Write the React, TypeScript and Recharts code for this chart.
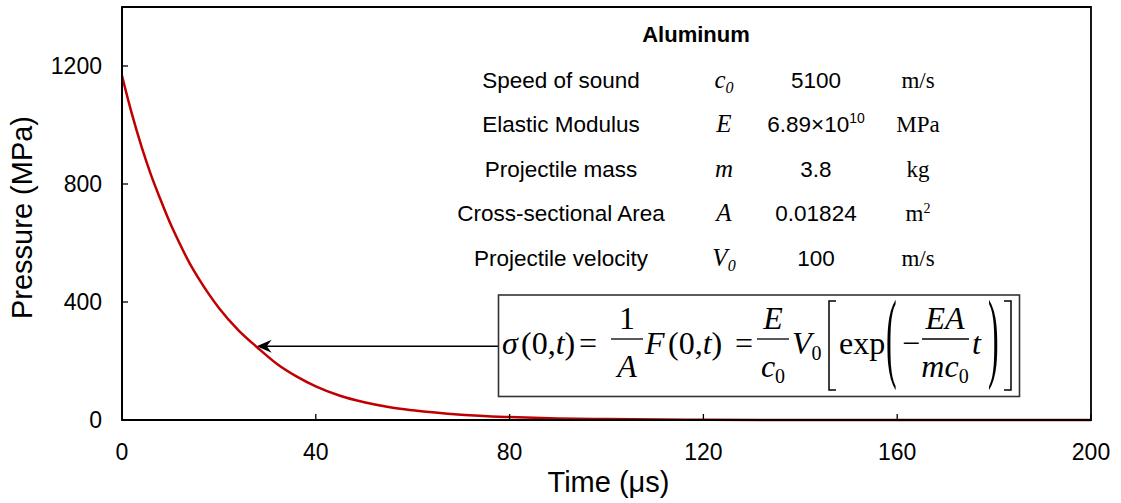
import React from 'react';
import { LineChart, Line, XAxis, YAxis, ReferenceArea, ReferenceLine } from 'recharts';

const SANS = "'Liberation Sans', Arial, sans-serif";
const SERIF = "'Liberation Serif', 'Times New Roman', serif";

// Time (µs) and pressure (MPa)
const timeUs = [0, 2, 4, 6, 8, 10, 12, 14, 16, 18, 20, 24, 28, 32, 36, 40, 45, 50, 55, 60, 70, 80, 90, 100, 120, 140, 160, 180, 200];
const pressureMPa = [1167, 1040, 928, 830, 745, 665, 595, 530, 475, 425, 380, 305, 245, 190, 148, 114, 82, 60, 44, 33, 18, 10, 5, 3, 1, 0, 0, 0, 0];

const xTicks = [0, 40, 80, 120, 160, 200];
const yTicks = [0, 400, 800, 1200];

// Parameter table
const tableTitle = 'Aluminum';
const paramNames = ['Speed of sound', 'Elastic Modulus', 'Projectile mass', 'Cross-sectional Area', 'Projectile velocity'];
const symbolBase = ['c', 'E', 'm', 'A', 'V'];
const symbolSub = ['0', '', '', '', '0'];
const valueMain = ['5100', '6.89×10', '3.8', '0.01824', '100'];
const valueSup = ['', '10', '', '', ''];
const unitMain = ['m/s', 'MPa', 'kg', 'm', 'm/s'];
const unitSup = ['', '', '', '2', ''];

// Arrow annotation (points at the curve)
const arrowFrom = { x: 77.6, y: 250 };
const arrowTo = { x: 27.8, y: 250 };

const data = timeUs.map((t, i) => ({ t, p: pressureMPa[i] }));

const ArrowShape = (props: any) => {
  const { x1, y1, x2, y2 } = props;
  if ([x1, y1, x2, y2].some((v) => typeof v !== 'number' || isNaN(v))) return null;
  const tipX = Math.min(x1, x2);
  const endX = Math.max(x1, x2);
  const y = y1;
  return (
    <g>
      <line x1={tipX + 6} y1={y} x2={endX} y2={y2} stroke="#000" strokeWidth={1.3} />
      <path
        d={`M ${tipX} ${y} L ${tipX + 15} ${y - 6.5} L ${tipX + 10} ${y} L ${tipX + 15} ${y + 6.5} Z`}
        fill="#000"
      />
    </g>
  );
};

function ParamTable() {
  const rowY0 = 87.5;
  const step = 44.5;
  return (
    <g fill="#000">
      <text x={696} y={42} textAnchor="middle" fontFamily={SANS} fontWeight="bold" fontSize={22}>
        {tableTitle}
      </text>
      {paramNames.map((name, i) => {
        const y = rowY0 + i * step;
        return (
          <g key={name}>
            <text x={561} y={y} textAnchor="middle" fontFamily={SANS} fontSize={22.5}>
              {name}
            </text>
            <text x={724} y={y} textAnchor="middle" fontFamily={SERIF} fontStyle="italic" fontSize={25}>
              {symbolBase[i]}
              {symbolSub[i] ? (
                <tspan fontSize={16} dy={5}>
                  {symbolSub[i]}
                </tspan>
              ) : null}
            </text>
            <text x={816} y={y} textAnchor="middle" fontFamily={SANS} fontSize={22.5}>
              {valueMain[i]}
              {valueSup[i] ? (
                <tspan fontSize={14} dy={-9}>
                  {valueSup[i]}
                </tspan>
              ) : null}
            </text>
            <text x={918} y={y} textAnchor="middle" fontFamily={SERIF} fontSize={23}>
              {unitMain[i]}
              {unitSup[i] ? (
                <tspan fontSize={14} dy={-8}>
                  {unitSup[i]}
                </tspan>
              ) : null}
            </text>
          </g>
        );
      })}
    </g>
  );
}

function Equation() {
  const BL = 354;
  const NUM = 329;
  const DEN = 377;
  const BAR = 339;
  const fs = 32;
  const sub = 20;
  return (
    <g fontFamily={SERIF} fontSize={fs} fill="#000">
      <rect x={498.5} y={295} width={521} height={101.5} fill="#fff" stroke="#333" strokeWidth={1.6} />
      <text x={502} y={BL} fontStyle="italic">σ</text>
      <text x={521} y={BL}>
        <tspan>(</tspan>0,<tspan fontStyle="italic">t</tspan>)
      </text>
      <text x={579} y={BL}>=</text>
      <text x={627} y={NUM} textAnchor="middle">1</text>
      <line x1={611} x2={643} y1={BAR} y2={BAR} stroke="#000" strokeWidth={1.3} />
      <text x={627} y={DEN} textAnchor="middle" fontStyle="italic">A</text>
      <text x={645} y={BL} fontStyle="italic">F</text>
      <text x={668} y={BL}>
        (0,<tspan fontStyle="italic">t</tspan>)
      </text>
      <text x={735} y={BL}>=</text>
      <text x={773} y={NUM} textAnchor="middle" fontStyle="italic">E</text>
      <line x1={757} x2={789} y1={BAR} y2={BAR} stroke="#000" strokeWidth={1.3} />
      <text x={773} y={DEN} textAnchor="middle">
        <tspan fontStyle="italic">c</tspan>
        <tspan fontSize={sub} dy={6}>0</tspan>
      </text>
      <text x={792} y={BL}>
        <tspan fontStyle="italic">V</tspan>
        <tspan fontSize={sub} dy={6}>0</tspan>
      </text>
      <path d="M 836 301 H 829 V 390 H 836" fill="none" stroke="#000" strokeWidth={1.5} />
      <text x={839} y={BL}>exp</text>
      <text transform="translate(886,369) scale(1,3.1)">(</text>
      <text x={902} y={BL}>−</text>
      <text x={945} y={NUM} textAnchor="middle" fontStyle="italic">EA</text>
      <line x1={922} x2={969} y1={BAR} y2={BAR} stroke="#000" strokeWidth={1.3} />
      <text x={945} y={DEN} textAnchor="middle">
        <tspan fontStyle="italic">mc</tspan>
        <tspan fontSize={sub} dy={6}>0</tspan>
      </text>
      <text x={972} y={BL} fontStyle="italic">t</text>
      <text transform="translate(988,369) scale(1,3.1)">)</text>
      <path d="M 1004 301 H 1011 V 390 H 1004" fill="none" stroke="#000" strokeWidth={1.5} />
    </g>
  );
}

export default function App() {
  const W = 1121;
  const H = 503;
  return (
    <div style={{ position: 'absolute', left: 0, top: 0, width: W, height: H, background: '#fff' }}>
      <LineChart width={W} height={H} data={data} margin={{ top: 7, right: 30, left: 0, bottom: 0 }}>
        <XAxis
          dataKey="t"
          type="number"
          domain={[0, 200]}
          ticks={xTicks}
          interval={0}
          height={83}
          tickSize={-6}
          tickMargin={30}
          axisLine={{ stroke: '#000', strokeWidth: 2 }}
          tickLine={{ stroke: '#000', strokeWidth: 1.3 }}
          tick={{ fill: '#000', fontSize: 23, fontFamily: SANS }}
        />
        <YAxis
          type="number"
          domain={[0, 1400]}
          ticks={yTicks}
          interval={0}
          width={122}
          tickSize={-6}
          tickMargin={26}
          axisLine={{ stroke: '#000', strokeWidth: 2 }}
          tickLine={{ stroke: '#000', strokeWidth: 1.3 }}
          tick={{ fill: '#000', fontSize: 23, fontFamily: SANS }}
        />
        <ReferenceArea x1={0} x2={200} y1={0} y2={1400} fill="none" fillOpacity={0} stroke="#000" strokeWidth={1.8} />
        <ReferenceLine segment={[arrowFrom, arrowTo]} shape={ArrowShape} />
        <Line
          type="monotone"
          dataKey="p"
          stroke="#c00000"
          strokeWidth={2.5}
          dot={false}
          activeDot={false}
          isAnimationActive={false}
        />
      </LineChart>
      <svg width={W} height={H} style={{ position: 'absolute', left: 0, top: 0, pointerEvents: 'none' }}>
        <ParamTable />
        <Equation />
        <text x={608.5} y={492} textAnchor="middle" fontFamily={SANS} fontSize={29} fill="#000">
          Time (μs)
        </text>
        <text transform="translate(32,217.5) rotate(-90)" textAnchor="middle" fontFamily={SANS} fontSize={29} fill="#000">
          Pressure (MPa)
        </text>
      </svg>
    </div>
  );
}
